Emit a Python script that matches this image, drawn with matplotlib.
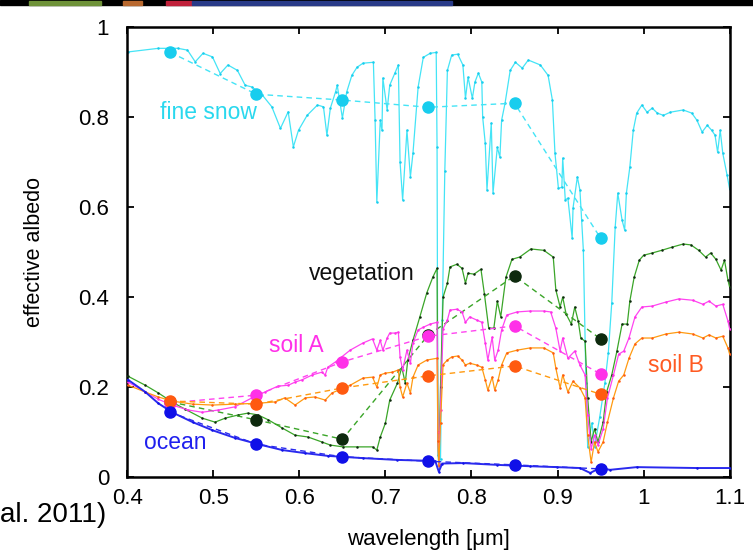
import matplotlib.pyplot as plt
import matplotlib.patches as mpatches

plt.rcParams['font.family'] = ['Liberation Sans', 'DejaVu Sans']

# band-averaged points (dots + dashed connectors)
band_wl = [0.45, 0.55, 0.65, 0.75, 0.85, 0.95]
snow_band = [0.944, 0.851, 0.838, 0.822, 0.831, 0.531]
veg_band = [0.167, 0.127, 0.084, 0.316, 0.447, 0.307]
soilA_band = [0.165, 0.182, 0.256, 0.313, 0.336, 0.229]
soilB_band = [0.169, 0.162, 0.198, 0.225, 0.247, 0.184]
ocean_band = [0.144, 0.073, 0.045, 0.035, 0.027, 0.018]

# high resolution spectra
snow_wl = [0.401, 0.436, 0.459, 0.470, 0.479, 0.488, 0.499, 0.508, 0.517, 0.528,
           0.537, 0.545, 0.557, 0.568, 0.578, 0.587, 0.593, 0.599, 0.609, 0.621,
           0.628, 0.632, 0.636, 0.642, 0.644, 0.650, 0.655, 0.661, 0.667, 0.674,
           0.686, 0.688, 0.690, 0.694, 0.696, 0.697, 0.702, 0.705, 0.711, 0.715,
           0.717, 0.720, 0.725, 0.729, 0.732, 0.738, 0.744, 0.752, 0.759, 0.760,
           0.761, 0.762, 0.764, 0.766, 0.769, 0.772, 0.777, 0.784, 0.790, 0.793,
           0.796, 0.801, 0.804, 0.808, 0.812, 0.813, 0.816, 0.818, 0.823, 0.825,
           0.830, 0.833, 0.835, 0.839, 0.845, 0.851, 0.859, 0.866, 0.880, 0.889,
           0.894, 0.897, 0.901, 0.905, 0.906, 0.909, 0.912, 0.917, 0.918, 0.923,
           0.926, 0.928, 0.930, 0.933, 0.935, 0.940, 0.943, 0.949, 0.955, 0.959,
           0.963, 0.967, 0.970, 0.975, 0.978, 0.980, 0.984, 0.988, 0.992, 0.998,
           1.004, 1.010, 1.016, 1.023, 1.031, 1.046, 1.056, 1.062, 1.068, 1.074,
           1.079, 1.083, 1.086, 1.089, 1.092, 1.097, 1.100]
snow_alb = [0.945, 0.953, 0.953, 0.949, 0.923, 0.942, 0.934, 0.897, 0.916, 0.904,
            0.871, 0.867, 0.849, 0.823, 0.775, 0.812, 0.734, 0.771, 0.804, 0.827,
            0.823, 0.760, 0.820, 0.856, 0.871, 0.798, 0.856, 0.893, 0.911, 0.920,
            0.922, 0.793, 0.611, 0.793, 0.771, 0.887, 0.816, 0.871, 0.898, 0.916,
            0.700, 0.616, 0.771, 0.667, 0.720, 0.867, 0.933, 0.942, 0.944, 0.733,
            0.050, 0.030, 0.040, 0.350, 0.680, 0.904, 0.938, 0.940, 0.916, 0.842,
            0.889, 0.842, 0.878, 0.898, 0.878, 0.800, 0.742, 0.638, 0.787, 0.631,
            0.733, 0.711, 0.793, 0.831, 0.904, 0.922, 0.909, 0.927, 0.916, 0.893,
            0.838, 0.720, 0.642, 0.644, 0.709, 0.616, 0.620, 0.531, 0.598, 0.667,
            0.638, 0.571, 0.504, 0.209, 0.067, 0.120, 0.067, 0.133, 0.209, 0.276,
            0.387, 0.556, 0.631, 0.571, 0.549, 0.631, 0.689, 0.771, 0.809, 0.827,
            0.811, 0.820, 0.809, 0.804, 0.811, 0.816, 0.809, 0.793, 0.767, 0.782,
            0.771, 0.760, 0.722, 0.771, 0.720, 0.671, 0.640]

veg_wl = [0.401, 0.421, 0.436, 0.452, 0.467, 0.487, 0.502, 0.514, 0.529, 0.540,
          0.552, 0.564, 0.580, 0.595, 0.610, 0.626, 0.636, 0.651, 0.667, 0.685,
          0.690, 0.694, 0.700, 0.705, 0.714, 0.719, 0.723, 0.726, 0.732, 0.740,
          0.748, 0.755, 0.760, 0.761, 0.762, 0.764, 0.767, 0.772, 0.775, 0.783,
          0.789, 0.793, 0.796, 0.803, 0.811, 0.815, 0.820, 0.826, 0.830, 0.834,
          0.840, 0.847, 0.856, 0.869, 0.884, 0.895, 0.898, 0.903, 0.906, 0.910,
          0.916, 0.920, 0.924, 0.927, 0.932, 0.935, 0.939, 0.943, 0.947, 0.953,
          0.957, 0.963, 0.969, 0.975, 0.981, 0.984, 0.989, 0.995, 1.000, 1.010,
          1.021, 1.033, 1.046, 1.055, 1.064, 1.072, 1.078, 1.084, 1.090, 1.094,
          1.098, 1.100]
veg_alb = [0.224, 0.204, 0.187, 0.167, 0.151, 0.131, 0.122, 0.131, 0.138, 0.142,
           0.138, 0.127, 0.109, 0.093, 0.089, 0.078, 0.071, 0.067, 0.067, 0.067,
           0.060, 0.089, 0.120, 0.171, 0.209, 0.244, 0.209, 0.260, 0.304, 0.356,
           0.409, 0.444, 0.464, 0.100, 0.030, 0.200, 0.400, 0.431, 0.467, 0.473,
           0.464, 0.431, 0.453, 0.451, 0.462, 0.407, 0.331, 0.331, 0.391, 0.356,
           0.444, 0.484, 0.489, 0.507, 0.504, 0.489, 0.416, 0.378, 0.400, 0.362,
           0.340, 0.378, 0.347, 0.309, 0.302, 0.176, 0.078, 0.107, 0.078, 0.122,
           0.189, 0.227, 0.280, 0.340, 0.340, 0.391, 0.444, 0.482, 0.493, 0.498,
           0.504, 0.511, 0.518, 0.516, 0.504, 0.489, 0.498, 0.484, 0.460, 0.482,
           0.438, 0.422]

soilA_wl = [0.401, 0.421, 0.436, 0.452, 0.471, 0.487, 0.506, 0.525, 0.545, 0.560,
            0.575, 0.587, 0.595, 0.603, 0.615, 0.626, 0.630, 0.633, 0.642, 0.659,
            0.674, 0.685, 0.690, 0.694, 0.697, 0.702, 0.705, 0.711, 0.715, 0.717,
            0.720, 0.725, 0.729, 0.732, 0.738, 0.744, 0.752, 0.760, 0.761, 0.762,
            0.764, 0.767, 0.772, 0.775, 0.783, 0.789, 0.793, 0.798, 0.806, 0.812,
            0.816, 0.819, 0.824, 0.827, 0.831, 0.835, 0.841, 0.853, 0.868, 0.884,
            0.892, 0.898, 0.903, 0.906, 0.912, 0.920, 0.926, 0.932, 0.935, 0.939,
            0.943, 0.947, 0.953, 0.958, 0.965, 0.971, 0.977, 0.983, 0.990, 0.998,
            1.010, 1.026, 1.041, 1.057, 1.069, 1.076, 1.084, 1.092, 1.098, 1.100]
soilA_alb = [0.211, 0.189, 0.173, 0.160, 0.149, 0.144, 0.149, 0.156, 0.176, 0.189,
             0.202, 0.204, 0.211, 0.216, 0.227, 0.233, 0.227, 0.244, 0.256, 0.282,
             0.298, 0.307, 0.282, 0.304, 0.282, 0.309, 0.320, 0.320, 0.322, 0.267,
             0.238, 0.282, 0.253, 0.298, 0.327, 0.333, 0.340, 0.344, 0.100, 0.030,
             0.150, 0.330, 0.349, 0.371, 0.373, 0.367, 0.344, 0.356, 0.349, 0.344,
             0.298, 0.260, 0.311, 0.260, 0.282, 0.327, 0.360, 0.367, 0.369, 0.369,
             0.367, 0.331, 0.280, 0.309, 0.264, 0.280, 0.249, 0.227, 0.138, 0.062,
             0.093, 0.071, 0.107, 0.176, 0.227, 0.273, 0.280, 0.309, 0.356, 0.378,
             0.380, 0.389, 0.396, 0.393, 0.384, 0.391, 0.380, 0.384, 0.347, 0.329]

soilB_wl = [0.401, 0.421, 0.436, 0.452, 0.476, 0.499, 0.525, 0.552, 0.572, 0.583,
            0.595, 0.607, 0.618, 0.630, 0.638, 0.659, 0.674, 0.685, 0.690, 0.694,
            0.700, 0.708, 0.715, 0.717, 0.720, 0.725, 0.729, 0.732, 0.738, 0.748,
            0.760, 0.761, 0.762, 0.764, 0.767, 0.772, 0.777, 0.784, 0.789, 0.793,
            0.798, 0.806, 0.812, 0.816, 0.819, 0.824, 0.827, 0.831, 0.835, 0.841,
            0.853, 0.868, 0.884, 0.895, 0.898, 0.903, 0.906, 0.912, 0.918, 0.926,
            0.932, 0.935, 0.939, 0.943, 0.947, 0.953, 0.958, 0.965, 0.971, 0.977,
            0.983, 0.990, 0.998, 1.010, 1.026, 1.041, 1.057, 1.069, 1.076, 1.084,
            1.092, 1.098, 1.100]
soilB_alb = [0.204, 0.189, 0.178, 0.169, 0.162, 0.160, 0.162, 0.164, 0.167, 0.176,
             0.160, 0.176, 0.178, 0.171, 0.187, 0.204, 0.220, 0.222, 0.200, 0.227,
             0.231, 0.233, 0.238, 0.200, 0.178, 0.209, 0.187, 0.222, 0.249, 0.260,
             0.264, 0.080, 0.025, 0.120, 0.250, 0.260, 0.267, 0.269, 0.260, 0.249,
             0.253, 0.249, 0.244, 0.216, 0.193, 0.222, 0.193, 0.216, 0.249, 0.276,
             0.282, 0.287, 0.287, 0.276, 0.242, 0.198, 0.227, 0.189, 0.213, 0.198,
             0.176, 0.093, 0.033, 0.078, 0.056, 0.078, 0.122, 0.176, 0.213, 0.227,
             0.264, 0.296, 0.309, 0.309, 0.318, 0.322, 0.318, 0.309, 0.316, 0.309,
             0.313, 0.287, 0.273]

ocean_wl = [0.401, 0.421, 0.436, 0.452, 0.476, 0.499, 0.525, 0.552, 0.580, 0.607,
            0.633, 0.674, 0.714, 0.752, 0.758, 0.762, 0.766, 0.790, 0.830, 0.868,
            0.899, 0.926, 0.938, 0.949, 0.961, 0.992, 1.062, 1.100]
ocean_alb = [0.216, 0.189, 0.164, 0.144, 0.122, 0.104, 0.087, 0.073, 0.060, 0.053,
             0.047, 0.042, 0.038, 0.036, 0.035, 0.012, 0.030, 0.031, 0.027, 0.024,
             0.022, 0.020, 0.009, 0.020, 0.016, 0.022, 0.020, 0.020]

fig = plt.figure(figsize=(7.53, 5.55), dpi=100)
ax = fig.add_axes([0.169, 0.1405, 0.8, 0.8105])

# strip of the slide above the chart
fig.patches.append(mpatches.Rectangle((0, 1 - 5 / 555), 1, 5 / 555, transform=fig.transFigure,
                                      color='black', zorder=0))
for x0, x1, c in [(29, 101, '#6e9238'), (123, 142, '#b8682e'), (166, 192, '#c0203a'),
                  (192, 452, '#283a88')]:
    fig.patches.append(mpatches.Rectangle((x0 / 753, 1 - 5 / 555), (x1 - x0) / 753, 4 / 555,
                                          transform=fig.transFigure, color=c, zorder=1))


def draw_series(wl, alb, bwl, balb, line_c, dot_c, z, lw=0.9):
    ax.plot(wl, alb, color=line_c, lw=lw, marker='.', ms=1.6, mfc=dot_c, mec=dot_c, zorder=z)
    ax.plot(bwl, balb, color=line_c, lw=1.0, ls=(0, (4, 3)), zorder=z)
    ax.plot(bwl, balb, ls='none', marker='o', ms=8, color=dot_c, zorder=z + 0.5)


draw_series(snow_wl, snow_alb, band_wl, snow_band, '#44e4f6', '#18cdee', 2)
draw_series(veg_wl, veg_alb, band_wl, veg_band, '#3aa528', '#0e2a0e', 3)
draw_series(soilA_wl, soilA_alb, band_wl, soilA_band, '#ff44f0', '#ff30e8', 4)
draw_series(soilB_wl, soilB_alb, band_wl, soilB_band, '#ff9a10', '#ff5a10', 5)
draw_series(ocean_wl, ocean_alb, band_wl, ocean_band, '#2a2aee', '#1010e8', 6, lw=1.4)

lab_fs = 16.5
ax.text(0.494, 0.811, 'fine snow', color='#2ad8ee', fontsize=lab_fs, ha='center', va='center')
ax.text(0.672, 0.453, 'vegetation', color='#101010', fontsize=lab_fs, ha='center', va='center')
ax.text(0.596, 0.293, 'soil A', color='#ff30e8', fontsize=lab_fs, ha='center', va='center')
ax.text(1.038, 0.247, 'soil B', color='#ff5a22', fontsize=lab_fs, ha='center', va='center')
ax.text(0.456, 0.076, 'ocean', color='#2020ee', fontsize=lab_fs, ha='center', va='center')

ax.set_xlim(0.4, 1.1)
ax.set_ylim(0, 1)
ax.set_xticks([0.4, 0.5, 0.6, 0.7, 0.8, 0.9, 1.0, 1.1])
ax.set_xticklabels(['0.4', '0.5', '0.6', '0.7', '0.8', '0.9', '1', '1.1'])
ax.set_yticks([0, 0.2, 0.4, 0.6, 0.8, 1.0])
ax.set_yticklabels(['0', '0.2', '0.4', '0.6', '0.8', '1'])
ax.tick_params(direction='in', length=5, width=1.3, top=True, right=True, labelsize=16)
ax.tick_params(axis='x', pad=8)
ax.tick_params(axis='y', pad=13)
for s in ax.spines.values():
    s.set_linewidth(1.8)

ax.set_xlabel('wavelength [μm]', fontsize=16, labelpad=14)
ax.set_ylabel('effective albedo', fontsize=15.5, labelpad=24)

fig.text(0.0, 1 - 515 / 555, 'al. 2011)', fontsize=20, ha='left', va='center')

fig.savefig('out.png', dpi=100)
